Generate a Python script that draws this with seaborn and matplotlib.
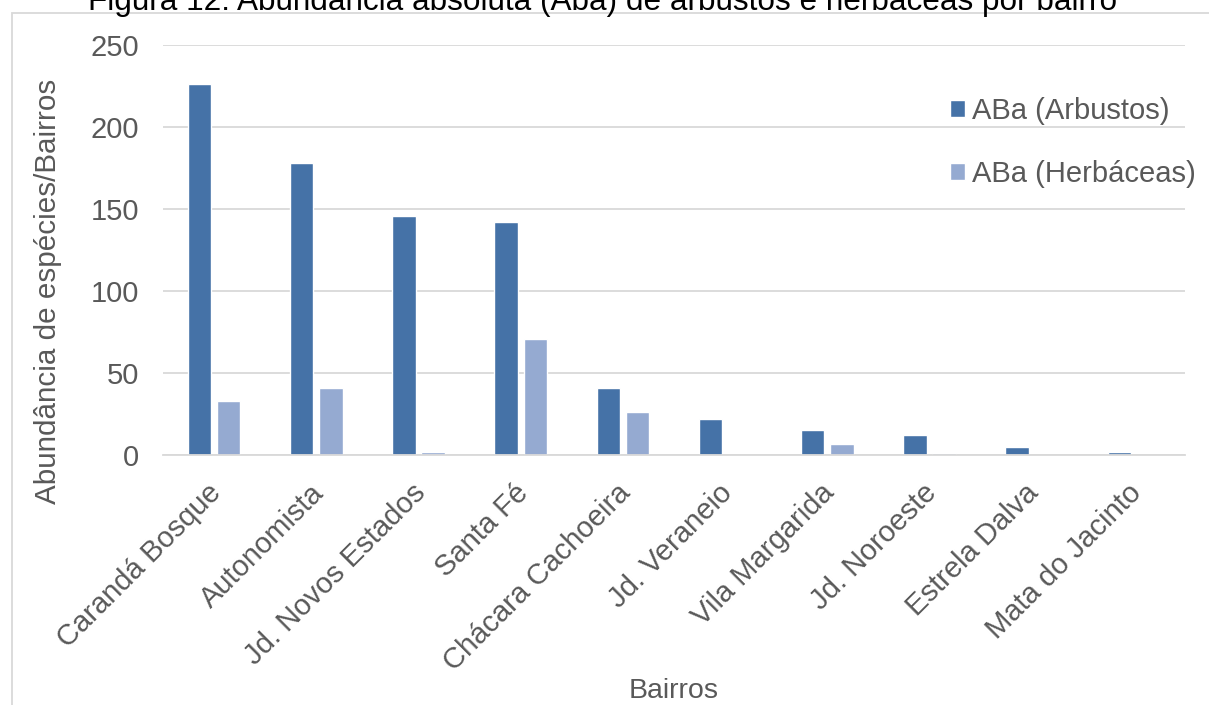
import matplotlib
matplotlib.use("Agg")
import matplotlib.pyplot as plt
import matplotlib.transforms as mtransforms
import seaborn as sns
import pandas as pd
from matplotlib.patches import Rectangle

# ---- data ----
bairros = ["Carandá Bosque", "Autonomista", "Jd. Novos Estados", "Santa Fé",
           "Chácara Cachoeira", "Jd. Veraneio", "Vila Margarida", "Jd. Noroeste",
           "Estrela Dalva", "Mata do Jacinto"]
arbustos = [226, 178, 146, 142, 41, 22, 15, 12, 5, 2]
herbaceas = [33, 41, 2, 71, 26, 0, 7, 1, 0, 0]
series = ["ABa (Arbustos)", "ABa (Herbáceas)"]
colors = ["#4572A7", "#95AAD1"]
yticks = [0, 50, 100, 150, 200, 250]
title = "Figura 12. Abundância absoluta (Aba) de arbustos e herbáceas por bairro"
xlabel = "Bairros"
ylabel = "Abundância de espécies/Bairros"

df = pd.DataFrame({
    "Bairro": bairros * 2,
    "Valor": arbustos + herbaceas,
    "Série": [series[0]] * len(bairros) + [series[1]] * len(bairros),
})

sns.set_theme(style="white")
plt.rcParams['font.family'] = ['Liberation Sans', 'DejaVu Sans']

W, H = 1209, 705
fig = plt.figure(figsize=(W / 100, H / 100), dpi=100)
ax = fig.add_axes([163 / W, 1 - 455 / H, (1185 - 163) / W, (455 - 45) / H])

sns.barplot(data=df, x="Bairro", y="Valor", hue="Série", hue_order=series,
            palette=colors, width=0.57, gap=0.2, saturation=1, ax=ax)

txt = "#595959"
grid = "#d9d9d9"
ax.set_ylim(0, 250)
ax.set_xlim(-0.5, len(bairros) - 0.5)
ax.set_yticks(yticks)
ax.yaxis.grid(True, color=grid, lw=1.3)
ax.set_axisbelow(True)
for s in ["top", "right", "left"]:
    ax.spines[s].set_visible(False)
ax.spines["bottom"].set_color(grid)
ax.spines["bottom"].set_linewidth(1.3)
ax.tick_params(axis="both", length=0, labelsize=21, labelcolor=txt)
ax.tick_params(axis="y", pad=17)
ax.tick_params(axis="x", pad=17)
offset = mtransforms.ScaledTranslation(-7 / 100, 0, fig.dpi_scale_trans)
for lab in ax.get_xticklabels():
    lab.set_rotation(45)
    lab.set_ha("right")
    lab.set_rotation_mode("anchor")
    lab.set_transform(lab.get_transform() + offset)

ax.set_xlabel(xlabel, fontsize=20.5, color=txt)
ax.xaxis.set_label_coords(0.5, -0.545)
ax.set_ylabel(ylabel, fontsize=21.3, color=txt)
ax.yaxis.set_label_coords(-0.099, 0.4)

leg = ax.legend(loc="upper left", bbox_to_anchor=(950 / W, 1 - 97 / H),
                bbox_transform=fig.transFigure, frameon=False, fontsize=21,
                handlelength=0.5, handleheight=0.5, handletextpad=0.25,
                labelspacing=1.2, borderpad=0, borderaxespad=0)
for t in leg.get_texts():
    t.set_color(txt)

fig.text(603 / W, 1 - 10 / H, title, ha="center", va="baseline",
         fontsize=22.7, color="black")

fig.patches.append(Rectangle((11.5 / W, -0.1), 1.2, (H - 13) / H + 0.1,
                             transform=fig.transFigure, fill=False,
                             ec=grid, lw=1.3))

fig.savefig("out.png", dpi=100)
